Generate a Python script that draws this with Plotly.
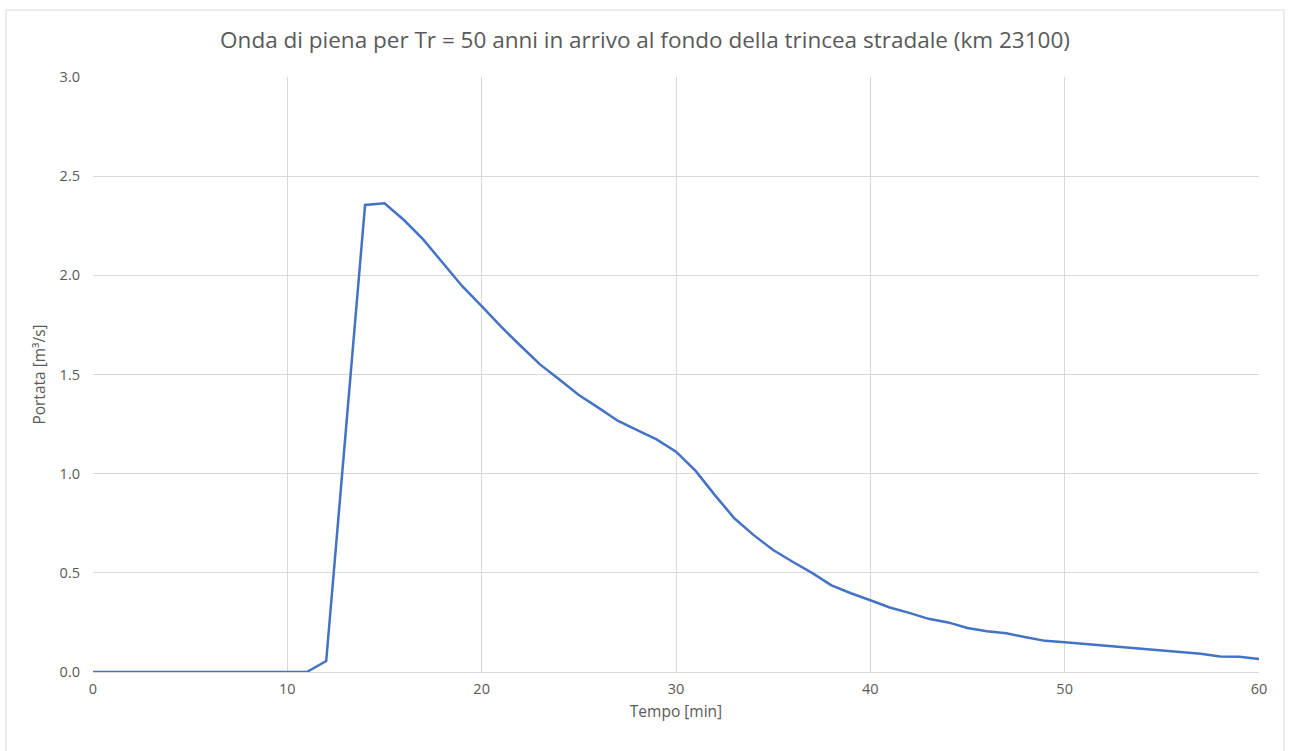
import plotly.graph_objects as go

tempo = list(range(0, 61))
portata = [0, 0, 0, 0, 0, 0, 0, 0, 0, 0, 0, 0,
           0.055, 1.2, 2.355, 2.363, 2.279, 2.18, 2.06, 1.945, 1.845,
           1.741, 1.645, 1.551, 1.475, 1.397, 1.333, 1.267, 1.22, 1.173, 1.111,
           1.015, 0.892, 0.775, 0.69, 0.615, 0.556, 0.50, 0.437, 0.397, 0.362,
           0.325, 0.298, 0.268, 0.25, 0.222, 0.205, 0.195, 0.175, 0.157, 0.15,
           0.142, 0.134, 0.126, 0.118, 0.110, 0.101, 0.092, 0.078, 0.077, 0.065]

title_text = "Onda di piena per Tr = 50 anni in arrivo al fondo della trincea stradale (km 23100)"
x_title = "Tempo [min]"
y_title = "Portata [m³/s]"

font_family = "Open Sans, Noto Sans, sans-serif"
txt = "#595959"
grid = "#d9d9d9"

fig = go.Figure()
fig.add_trace(go.Scatter(x=tempo, y=portata, mode="lines",
                         line=dict(color="#4472C4", width=2.5),
                         hoverinfo="x+y", showlegend=False))

W, H = 1290, 751
ml, mr, mt, mb = 93, 31, 77, 79
pw, ph = W - ml - mr, H - mt - mb

def px2paper_x(p):
    return (p - ml) / pw

def px2paper_y(p):
    return (H - mb - p) / ph

fig.update_layout(
    width=W, height=H,
    margin=dict(l=ml, r=mr, t=mt, b=mb),
    paper_bgcolor="white", plot_bgcolor="white",
    font=dict(family=font_family, color=txt, size=14),
    title=dict(text=title_text, x=0.5, xanchor="center", y=1 - 40 / H, yanchor="middle",
               font=dict(size=22.5, color=txt, family=font_family)),
    xaxis=dict(range=[0, 60], tickmode="linear", tick0=0, dtick=10,
               showgrid=True, gridcolor=grid, gridwidth=1,
               showline=True, linecolor=grid, linewidth=1,
               zeroline=False, ticks="", tickfont=dict(size=14.5, color=txt),
               ticklabelstandoff=4,
               title=dict(text=x_title, font=dict(size=15.5, color=txt), standoff=8)),
    yaxis=dict(range=[0, 3.0], tickmode="linear", tick0=0, dtick=0.5, tickformat=".1f",
               showgrid=True, gridcolor=grid, gridwidth=1,
               showline=False, zeroline=False, ticks="",
               ticklabelstandoff=12,
               tickfont=dict(size=14.5, color=txt),
               title=dict(text=y_title, font=dict(size=15.5, color=txt), standoff=10)),
    shapes=[dict(type="rect", xref="paper", yref="paper",
                 x0=px2paper_x(6), x1=px2paper_x(1284),
                 y0=px2paper_y(755), y1=px2paper_y(10),
                 line=dict(color="#d9d9d9", width=1), fillcolor="rgba(0,0,0,0)",
                 layer="below")],
)

fig.write_html("out.html",
               config={"displayModeBar": False},
               post_script="document.body.style.margin='0';document.body.style.overflow='hidden';")
